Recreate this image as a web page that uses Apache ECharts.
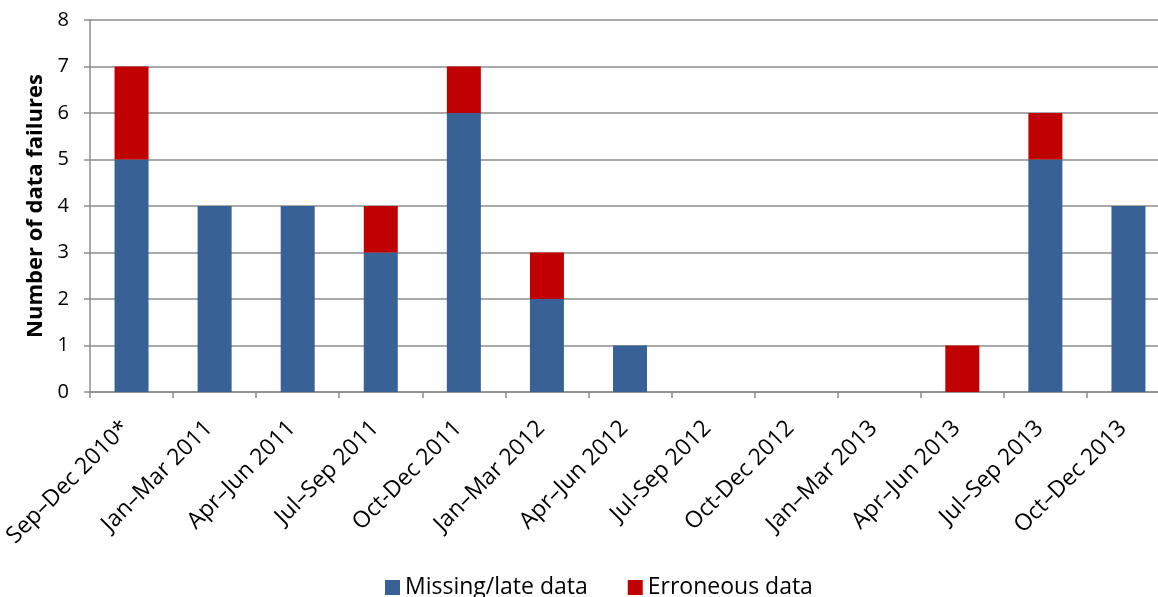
<!DOCTYPE html>
<html>
<head>
<meta charset="utf-8">
<script src="https://cdn.jsdelivr.net/npm/echarts@6/dist/echarts.min.js"></script>
<style>
  html, body { margin: 0; padding: 0; background: #fff; overflow: hidden; }
  /* the plot area runs a little past the right edge of the window */
  #chart { width: 1170px; height: 597px; }
</style>
</head>
<body>
<div id="chart"></div>
<script>
// Quarterly periods
const categories = [
  'Sep–Dec 2010*', 'Jan–Mar 2011', 'Apr–Jun 2011', 'Jul–Sep 2011',
  'Oct-Dec 2011', 'Jan–Mar 2012', 'Apr–Jun 2012', 'Jul-Sep 2012',
  'Oct-Dec 2012', 'Jan–Mar 2013', 'Apr–Jun 2013', 'Jul–Sep 2013',
  'Oct–Dec 2013'
];
// Failures per period, by type
const missingLate = [5, 4, 4, 3, 6, 2, 1, 0, 0, 0, 0, 5, 4];
const erroneous   = [2, 0, 0, 1, 1, 1, 0, 0, 0, 0, 1, 1, 0];
const yTicks = { min: 0, max: 8, interval: 1 };

const FONT = '"Open Sans", "Liberation Sans", sans-serif';
const chart = echarts.init(document.getElementById('chart'), null, { renderer: 'canvas' });

chart.setOption({
  animation: false,
  backgroundColor: '#ffffff',
  grid: { left: 90, right: 0, top: 20, height: 372, containLabel: false },
  legend: {
    top: 571,
    left: 380,
    itemWidth: 15,
    itemHeight: 15,
    itemGap: 40,
    icon: 'rect',
    textStyle: { fontFamily: FONT, fontSize: 23, color: '#000' },
    data: ['Missing/late data', 'Erroneous data']
  },
  xAxis: {
    type: 'category',
    data: categories,
    boundaryGap: true,
    axisLine: { show: true, lineStyle: { color: '#8c8c8c', width: 1.5 } },
    axisTick: { show: true, alignWithLabel: false, length: 6, lineStyle: { color: '#8c8c8c', width: 1.5 } },
    axisLabel: {
      interval: 0,
      rotate: 45,
      margin: 27,
      padding: [0, 8, 0, 0],
      fontFamily: FONT,
      fontSize: 23,
      color: '#000'
    }
  },
  yAxis: {
    type: 'value',
    min: yTicks.min,
    max: yTicks.max,
    interval: yTicks.interval,
    name: 'Number of data failures',
    nameLocation: 'middle',
    nameGap: 42,
    nameRotate: 90,
    nameTextStyle: { fontFamily: FONT, fontSize: 22, fontWeight: 'bold', color: '#000' },
    axisLine: { show: true, lineStyle: { color: '#8c8c8c', width: 1.5 } },
    axisTick: { show: true, length: 6, lineStyle: { color: '#8c8c8c', width: 1.5 } },
    axisLabel: { fontFamily: FONT, fontSize: 20, color: '#000', margin: 21 },
    splitLine: { show: true, lineStyle: { color: '#8c8c8c', width: 1.5 } }
  },
  series: [
    {
      name: 'Missing/late data',
      type: 'bar',
      stack: 'total',
      barWidth: 34,
      itemStyle: { color: '#386195' },
      data: missingLate
    },
    {
      name: 'Erroneous data',
      type: 'bar',
      stack: 'total',
      barWidth: 34,
      itemStyle: { color: '#c00000' },
      data: erroneous
    }
  ]
});
</script>
</body>
</html>
